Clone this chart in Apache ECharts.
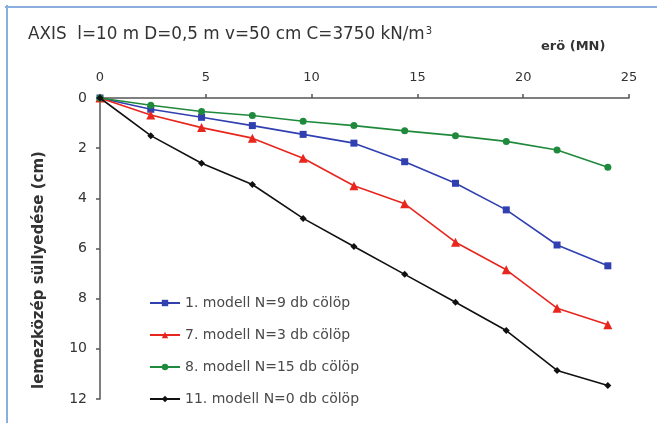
<!DOCTYPE html>
<html>
<head>
<meta charset="utf-8">
<script src="https://cdn.jsdelivr.net/npm/echarts@6/dist/echarts.min.js"></script>
<style>html,body{margin:0;padding:0;background:#fff}#c{width:657px;height:423px}</style>
</head>
<body>
<div id="c"></div>
<script>
const forces = [0, 2.4, 4.8, 7.2, 9.6, 12.0, 14.4, 16.8, 19.2, 21.6, 24.0];
const model1 = [0, 0.45, 0.77, 1.1, 1.45, 1.8, 2.54, 3.4, 4.46, 5.86, 6.69];
const model7 = [0, 0.68, 1.18, 1.6, 2.4, 3.5, 4.22, 5.75, 6.85, 8.38, 9.04];
const model8 = [0, 0.29, 0.54, 0.7, 0.93, 1.1, 1.31, 1.5, 1.73, 2.07, 2.76];
const model11 = [0, 1.5, 2.6, 3.45, 4.8, 5.92, 7.03, 8.14, 9.27, 10.86, 11.46];
const seriesNames = ['1. modell N=9 db cölöp', '7. modell N=3 db cölöp', '8. modell N=15 db cölöp', '11. modell N=0 db cölöp'];
const seriesValues = [model1, model7, model8, model11];
const colors = ['#3040b0', '#e8261e', '#1f8a3c', '#111111'];
const symbols = ['rect', 'triangle', 'circle', 'diamond'];
const symbolSizes = [7, 9, 7, 7];
const xTicks = [0, 5, 10, 15, 20, 25];
const yTicks = [0, 2, 4, 6, 8, 10, 12];

const chart = echarts.init(document.getElementById('c'), null, {renderer: 'canvas'});
const font = '"DejaVu Sans", Verdana, sans-serif';
chart.setOption({
  animation: false,
  backgroundColor: '#fff',
  textStyle: {fontFamily: font},
  grid: {left: 100, top: 98, right: 28, bottom: 24, containLabel: false},
  xAxis: {
    type: 'value', position: 'top', min: xTicks[0], max: xTicks[xTicks.length-1], interval: 5,
    axisLine: {show: true, lineStyle: {color: '#555', width: 1.5}},
    axisTick: {show: true, inside: false, length: 4, lineStyle: {color: '#555', width: 1.5}},
    axisLabel: {margin: 14, color: '#333', fontSize: 13, fontFamily: font},
    splitLine: {show: false}
  },
  yAxis: {
    type: 'value', inverse: true, min: yTicks[0], max: yTicks[yTicks.length-1], interval: 2,
    axisLine: {show: true, lineStyle: {color: '#555', width: 1.5}},
    axisTick: {show: true, inside: false, length: 4, lineStyle: {color: '#555', width: 1.5}},
    axisLabel: {margin: 13, color: '#333', fontSize: 14, fontFamily: font},
    splitLine: {show: false}
  },
  legend: {
    orient: 'vertical', left: 144, top: 291, itemWidth: 30, itemHeight: 8, itemGap: 18,
    textStyle: {color: '#4a4a4a', fontSize: 14, fontFamily: font},
    data: seriesNames
  },
  graphic: [
    {type: 'line', shape: {x1: 5, y1: 7, x2: 657, y2: 7}, style: {stroke: '#8aaee0', lineWidth: 2}},
    {type: 'line', shape: {x1: 7, y1: 5, x2: 7, y2: 423}, style: {stroke: '#8aaee0', lineWidth: 2}},
    {type: 'text', left: 28, top: 26, style: {
      text: '{a|AXIS  l=10 m D=0,5 m v=50 cm C=3750 kN/m}{s|3}',
      rich: {a: {fontSize: 16.8, fill: '#333', fontFamily: font}, s: {fontSize: 10, fill: '#333', fontFamily: font, verticalAlign: 'top', padding: [0,0,8,1]}}
    }},
    {type: 'text', left: 541, top: 40, style: {text: 'erö (MN)', fontSize: 13, fontWeight: 'bold', fill: '#333', fontFamily: font}},
    {type: 'text', x: 39, y: 270, rotation: Math.PI/2, style: {text: 'lemezközép süllyedése (cm)', fontSize: 15, fontWeight: 'bold', fill: '#333', fontFamily: font, align: 'center', verticalAlign: 'middle'}}
  ],
  series: seriesNames.map((name, i) => ({
    name: name, type: 'line',
    data: forces.map((f, j) => [f, seriesValues[i][j]]),
    symbol: symbols[i], symbolSize: symbolSizes[i], showSymbol: true,
    lineStyle: {color: colors[i], width: 1.6},
    itemStyle: {color: colors[i]},
    z: 2 + i
  }))
});
</script>
</body>
</html>
